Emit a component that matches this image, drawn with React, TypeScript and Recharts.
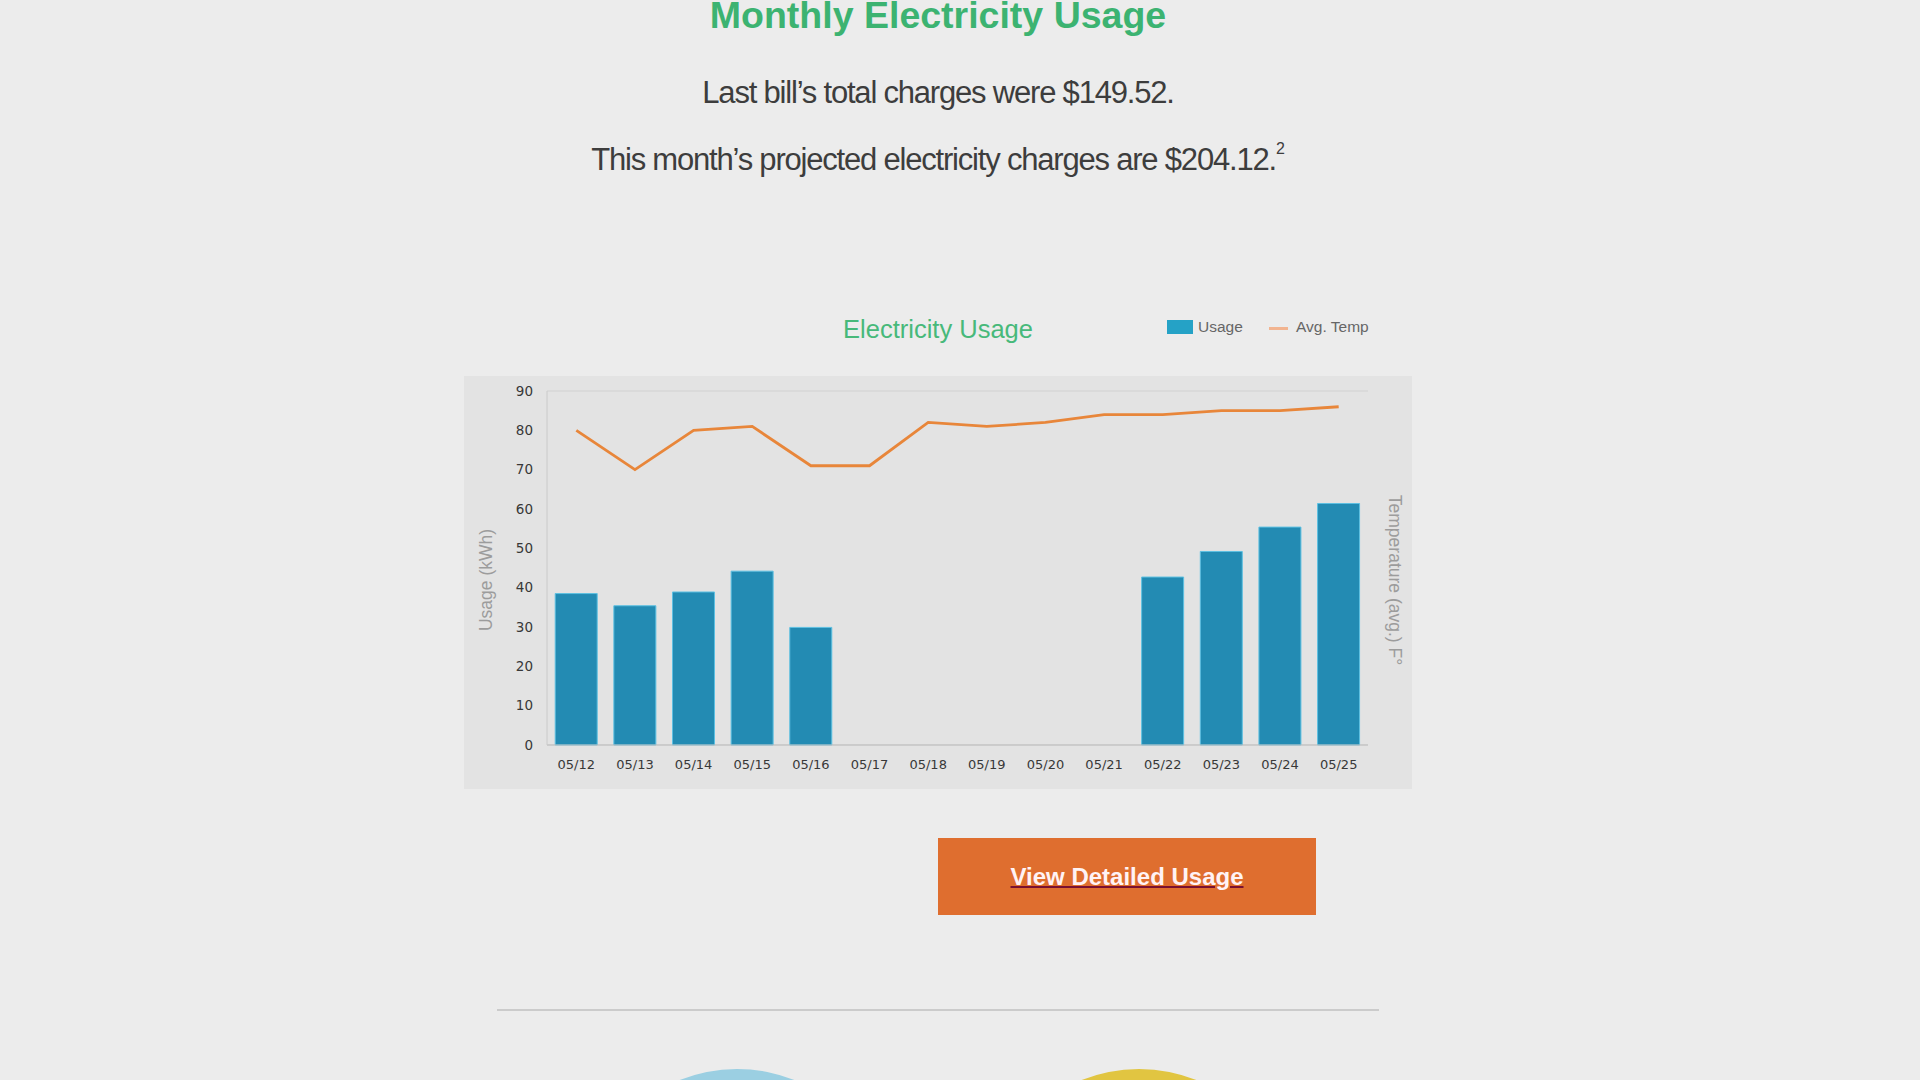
import React from "react";
import {
  ComposedChart,
  Bar,
  Line,
  XAxis,
  YAxis,
  CartesianGrid,
} from "recharts";

const dates = ["05/12", "05/13", "05/14", "05/15", "05/16", "05/17", "05/18", "05/19", "05/20", "05/21", "05/22", "05/23", "05/24", "05/25"];
const usage: (number | null)[] = [38.5, 35.4, 38.9, 44.2, 29.9, null, null, null, null, null, 42.7, 49.2, 55.4, 61.4];
const avgTemp = [80, 70, 80, 81, 71, 71, 82, 81, 82, 84, 84, 85, 85, 86];
const yTicks = [0, 10, 20, 30, 40, 50, 60, 70, 80, 90];

const data = dates.map((d, i) => ({ date: d, usage: usage[i], temp: avgTemp[i] }));

const ARIAL = "'Liberation Sans', Arial, sans-serif";
const DEJAVU = "'DejaVu Sans', sans-serif";

export default function App() {
  return (
    <div
      style={{
        position: "absolute",
        left: 0,
        top: 0,
        width: 1920,
        height: 1080,
        background: "#ececec",
        overflow: "hidden",
        fontFamily: ARIAL,
      }}
    >
      <div
        style={{
          position: "absolute",
          left: 0,
          width: 1876,
          top: -4,
          textAlign: "center",
          fontSize: 37.5,
          lineHeight: "38px",
          fontWeight: "bold",
          color: "#3cb371",
          whiteSpace: "nowrap",
        }}
      >
        Monthly Electricity Usage
      </div>
      <div
        style={{
          position: "absolute",
          left: 0,
          width: 1876,
          top: 77,
          textAlign: "center",
          fontSize: 31,
          lineHeight: "31px",
          letterSpacing: "-1.2px",
          color: "#3d3d3d",
          whiteSpace: "nowrap",
        }}
      >
        Last bill’s total charges were $149.52.
      </div>
      <div
        style={{
          position: "absolute",
          left: 0,
          width: 1876,
          top: 144,
          textAlign: "center",
          fontSize: 31,
          lineHeight: "31px",
          letterSpacing: "-1.2px",
          color: "#3d3d3d",
          whiteSpace: "nowrap",
        }}
      >
        This month’s projected electricity charges are $204.12.
        <span style={{ fontSize: 16, position: "relative", top: -16, letterSpacing: 0 }}>2</span>
      </div>

      {/* chart title */}
      <div
        style={{
          position: "absolute",
          left: 0,
          width: 1876,
          top: 316,
          textAlign: "center",
          fontSize: 25.5,
          lineHeight: "26px",
          color: "#47b97a",
          whiteSpace: "nowrap",
        }}
      >
        Electricity Usage
      </div>

      {/* legend */}
      <div style={{ position: "absolute", left: 1167, top: 320, width: 26, height: 14, background: "#25a2c6" }} />
      <div
        style={{
          position: "absolute",
          left: 1198,
          top: 318,
          fontSize: 15.5,
          lineHeight: "18px",
          color: "#666",
          whiteSpace: "nowrap",
        }}
      >
        Usage
      </div>
      <div style={{ position: "absolute", left: 1269, top: 327, width: 19, height: 3, background: "#f2b490" }} />
      <div
        style={{
          position: "absolute",
          left: 1296,
          top: 318,
          fontSize: 15.5,
          lineHeight: "18px",
          color: "#666",
          whiteSpace: "nowrap",
        }}
      >
        Avg. Temp
      </div>

      {/* chart panel */}
      <div style={{ position: "absolute", left: 464, top: 376, width: 948, height: 413, background: "#e3e3e3" }}>
        <ComposedChart
          width={948}
          height={413}
          data={data}
          margin={{ top: 15, right: 0, bottom: 0, left: 0 }}
          barCategoryGap="14%"
        >
          <CartesianGrid horizontal={true} vertical={false} stroke="#d1d1d1" />
          <XAxis
            dataKey="date"
            height={44}
            tickLine={false}
            tickMargin={9}
            axisLine={{ stroke: "#bdbdbd" }}
            interval={0}
            tick={{ fontFamily: DEJAVU, fontSize: 13, fill: "#383838" }}
          />
          <YAxis
            yAxisId="left"
            width={83}
            domain={[0, 90]}
            ticks={yTicks}
            tickLine={false}
            tickMargin={8}
            axisLine={{ stroke: "#cacaca" }}
            tick={{ fontFamily: DEJAVU, fontSize: 13.5, fill: "#383838" }}
            label={{
              value: "Usage (kWh)",
              angle: -90,
              position: "center",
              dx: -20,
              dy: 12,
              style: { fontFamily: ARIAL, fontSize: 17.5, fill: "#9c9c9c", textAnchor: "middle" },
            }}
          />
          <YAxis
            yAxisId="right"
            orientation="right"
            width={44}
            domain={[0, 90]}
            ticks={yTicks}
            tick={false}
            tickLine={false}
            axisLine={false}
            label={{
              value: "Temperature (avg.) F°",
              angle: 90,
              position: "center",
              dx: 5,
              dy: 12,
              style: { fontFamily: ARIAL, fontSize: 17.5, fill: "#9c9c9c", textAnchor: "middle" },
            }}
          />
          <Bar
            yAxisId="left"
            dataKey="usage"
            fill="#238bb3"
            stroke="#5cc0e2"
            strokeWidth={1}
            isAnimationActive={false}
          />
          <Line
            yAxisId="right"
            dataKey="temp"
            type="linear"
            stroke="#e8863a"
            strokeWidth={2.8}
            dot={false}
            activeDot={false}
            isAnimationActive={false}
          />
        </ComposedChart>
      </div>

      {/* button */}
      <div
        style={{
          position: "absolute",
          left: 938,
          top: 838,
          width: 378,
          height: 77,
          background: "#df6e2f",
          display: "flex",
          alignItems: "center",
          justifyContent: "center",
        }}
      >
        <span
          style={{
            fontSize: 24,
            fontWeight: "bold",
            color: "#fff3f5",
            textDecoration: "underline",
            textDecorationColor: "#7a1030",
            textDecorationThickness: 2,
            whiteSpace: "nowrap",
          }}
        >
          View Detailed Usage
        </span>
      </div>

      {/* separator */}
      <div style={{ position: "absolute", left: 497, top: 1009, width: 882, height: 2, background: "#cbcbcb" }} />

      {/* circles */}
      <div
        style={{
          position: "absolute",
          left: 737 - 155,
          top: 1069,
          width: 310,
          height: 310,
          borderRadius: "50%",
          background: "#9bcfe2",
        }}
      />
      <div
        style={{
          position: "absolute",
          left: 1139 - 155,
          top: 1069,
          width: 310,
          height: 310,
          borderRadius: "50%",
          background: "#e1c541",
        }}
      />
    </div>
  );
}
